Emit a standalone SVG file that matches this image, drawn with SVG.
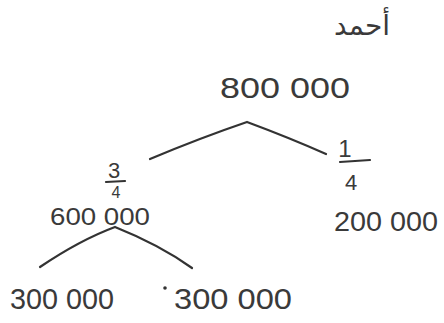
<svg xmlns="http://www.w3.org/2000/svg" width="444" height="323" viewBox="0 0 444 323">
<style>
.t{font-family:"Liberation Sans","DejaVu Sans",sans-serif;fill:#3a3a3a;}
.c{fill:none;stroke:#333;stroke-width:2.2;stroke-linecap:round;}
</style>
<rect width="444" height="323" fill="#fff"/>
<g id="connectors">
<path class="c" d="M150,159 Q200,138 247,122 Q290,138 326,154"/>
<path class="c" d="M40,267 Q80,240 115,227 Q160,245 192,268"/>
<line class="c" x1="340" y1="162" x2="370" y2="160"/>
<line class="c" x1="106" y1="182" x2="125" y2="181"/>
</g>
<g id="title"><text class="t" x="362" y="35" font-size="28" text-anchor="middle" font-family="'DejaVu Sans',sans-serif">أحمد</text></g>
<g id="root"><text class="t" x="220" y="98" font-size="30" textLength="130" lengthAdjust="spacingAndGlyphs">800 000</text></g>
<g id="left">
<text class="t" x="114" y="178" font-size="22" text-anchor="middle">3</text>
<text class="t" x="116" y="198" font-size="16" text-anchor="middle">4</text>
<text class="t" x="50" y="225" font-size="23" textLength="100" lengthAdjust="spacingAndGlyphs">600 000</text>
</g>
<g id="right">
<text class="t" x="345" y="157" font-size="24" text-anchor="middle">1</text>
<text class="t" x="351" y="190" font-size="22" text-anchor="middle">4</text>
<text class="t" x="334" y="231" font-size="28" textLength="104" lengthAdjust="spacingAndGlyphs">200 000</text>
</g>
<g id="leaf1"><text class="t" x="10" y="309" font-size="30" textLength="104" lengthAdjust="spacingAndGlyphs">300 000</text></g>
<g id="leaf2">
<circle cx="165" cy="288" r="1.8" fill="#333"/>
<text class="t" x="174" y="309" font-size="30" textLength="118" lengthAdjust="spacingAndGlyphs">300 000</text>
</g>
</svg>
